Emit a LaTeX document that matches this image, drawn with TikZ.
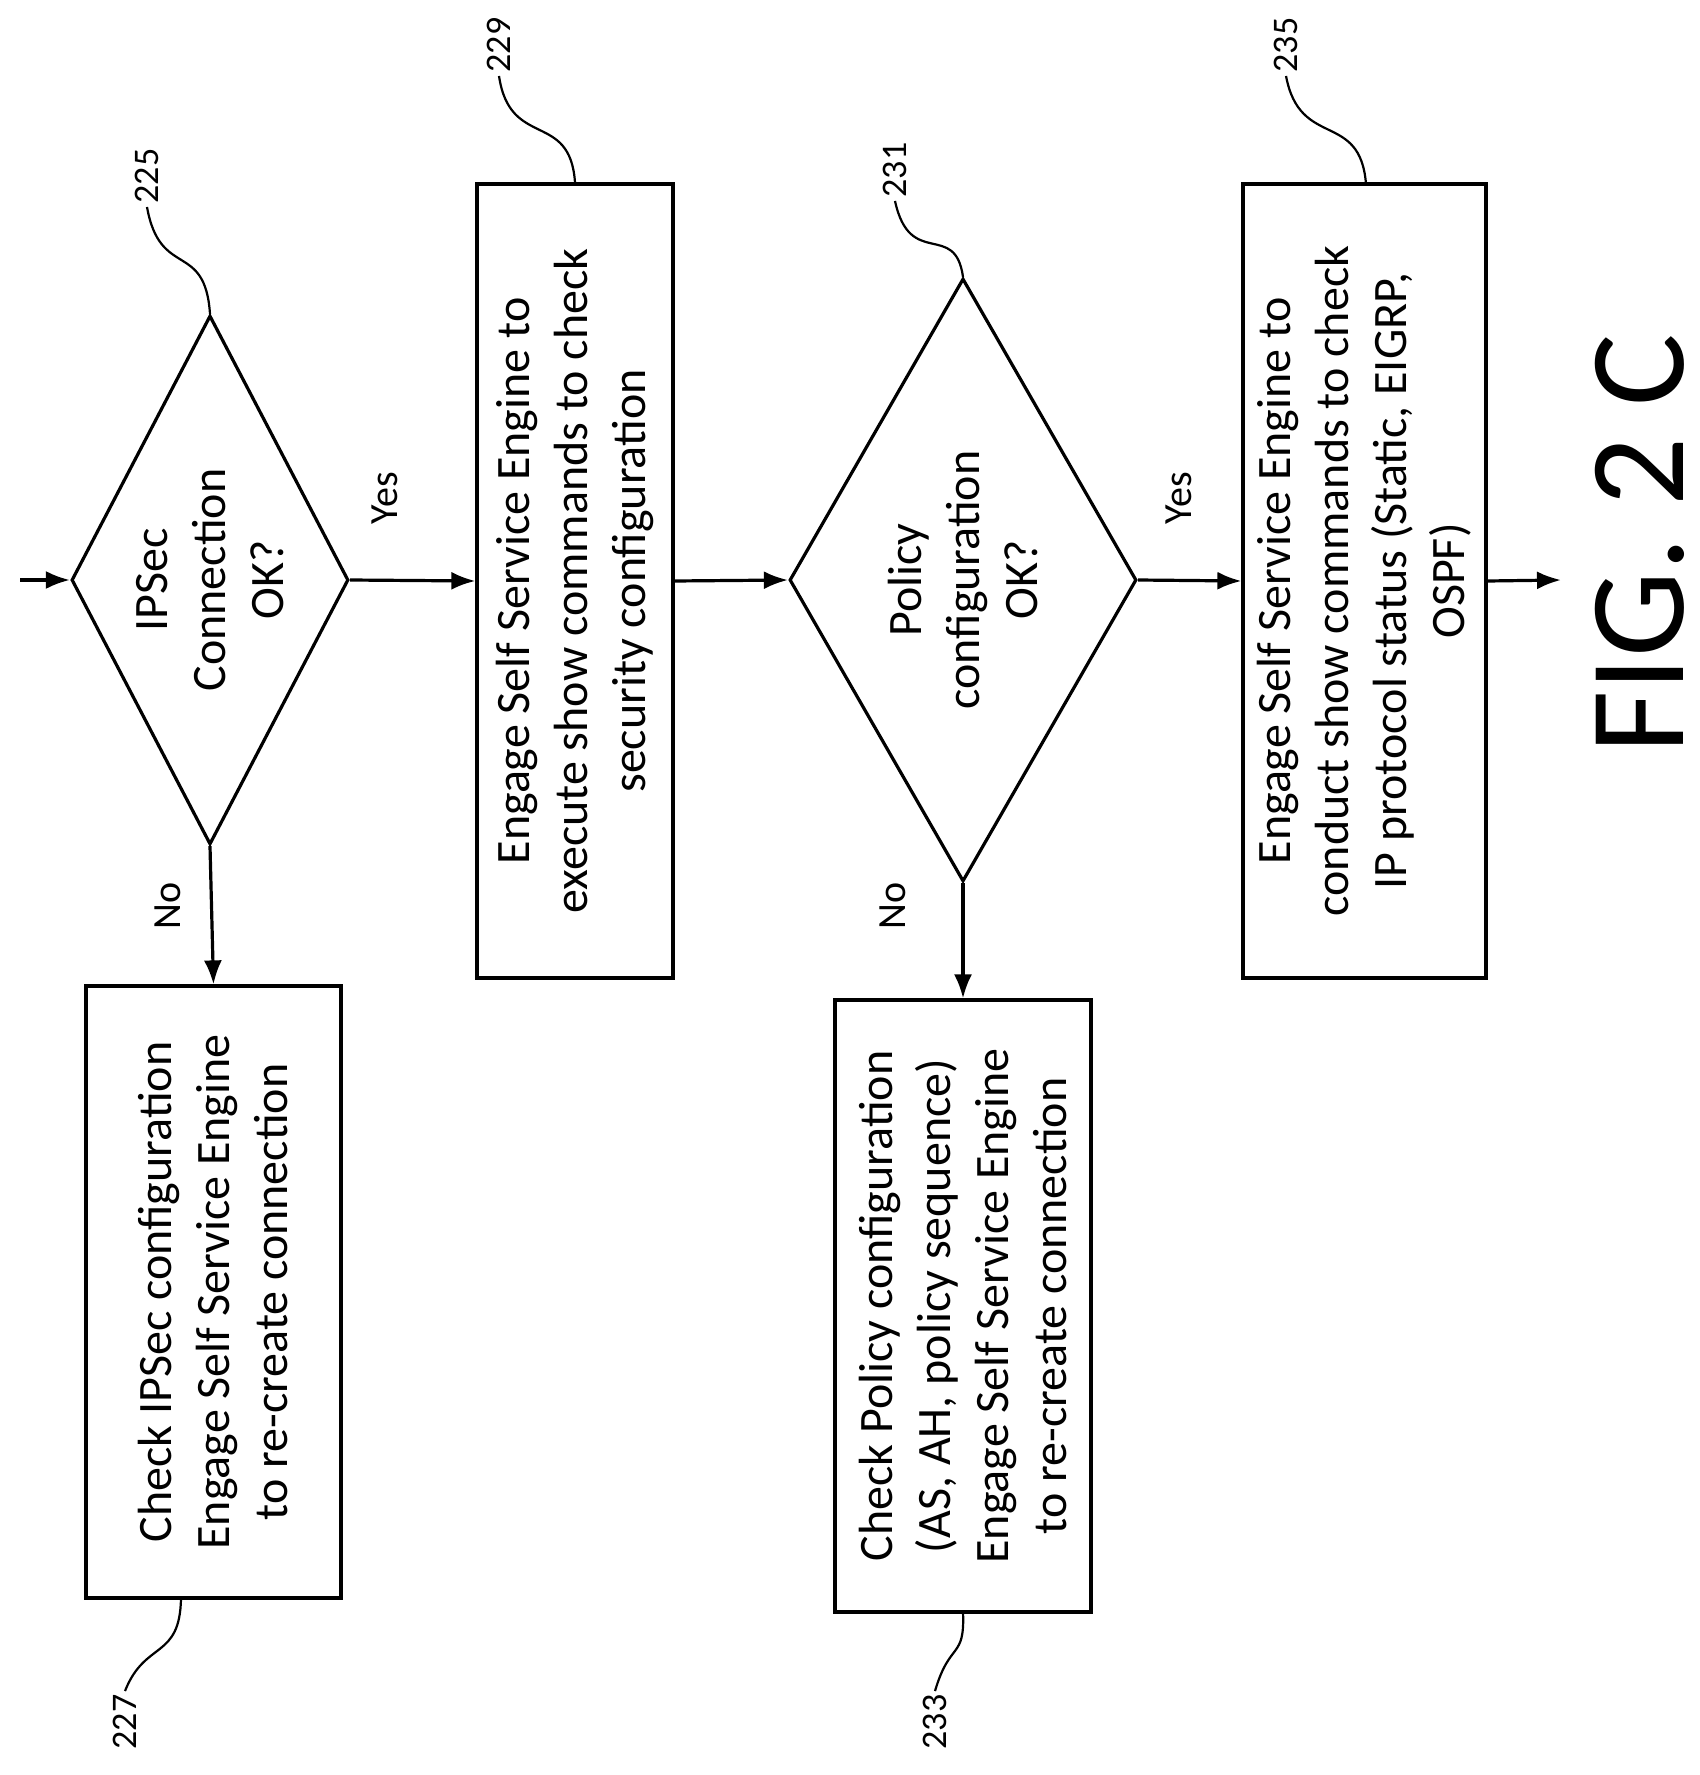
\documentclass[tikz,border=0pt]{standalone}
\usepackage{fontspec}
\setmainfont{Carlito}
\usetikzlibrary{shapes.geometric,arrows.meta}
\begin{document}
\begin{tikzpicture}[x=0.5pt,y=-0.5pt,line width=1.6pt,
  txt/.style={font=\fontsize{24}{29}\selectfont,align=center},
  box/.style={draw,rectangle,rotate=90,inner sep=0pt,txt},
  dia/.style={draw,diamond,rotate=90,inner sep=0pt},
  dtxt/.style={rotate=90,inner sep=0pt,txt},
  arr/.style={-{Latex[length=12pt,width=9pt]}},
  lbl/.style={rotate=90,font=\fontsize{18}{20}\selectfont,inner sep=1pt},
  yn/.style={rotate=90,font=\fontsize{20}{22}\selectfont,inner sep=1pt},
  ref/.style={line width=1.1pt}]
\useasboundingbox (0,0) rectangle (1700,1775);
\node[dia,minimum width=264.5pt,minimum height=138.5pt] (d1) at (210,580) {};
\node[dtxt] (d1t) at (d1.center) {IPSec\\Connection\\OK?};
\node[box,minimum width=306pt,minimum height=127.5pt] (b227) at (213.5,1292) {Check IPSec configuration\\Engage Self Service Engine\\to re-create connection};
\node[box,minimum width=397pt,minimum height=98pt] (b229) at (575,581) {Engage Self Service Engine to\\execute show commands to check\\security configuration};
\node[dia,minimum width=301.5pt,minimum height=173.5pt] (d2) at (963,580) {};
\node[dtxt] (d2t) at (d2.center) {Policy\\configuration\\OK?};
\node[box,minimum width=306pt,minimum height=128pt] (b233) at (963,1306) {Check Policy configuration\\(AS, AH, policy sequence)\\Engage Self Service Engine\\to re-create connection};
\node[box,minimum width=397pt,minimum height=121.5pt] (b235) at (1364.5,581) {Engage Self Service Engine to\\conduct show commands to check\\IP protocol status (Static, EIGRP,\\OSPF)};
\coordinate (in) at (20,580);
\coordinate (out) at (1561,580);
\draw[arr] (in) -- (d1.north);
\draw[arr] (d1.west) -- (b227.east);
\draw[arr] (d1.south) -- (b229.north);
\draw[arr] (b229.south) -- (d2.north);
\draw[arr] (d2.west) -- (b233.east);
\draw[arr] (d2.south) -- (b235.north);
\draw[arr] (b235.south) -- (out);
\node[yn] (no1) at (168,906) {No};
\node[yn] (yes1) at (385,498) {Yes};
\node[yn] (no2) at (893,906) {No};
\node[yn] (yes2) at (1179,498) {Yes};
\node[lbl] (n225) at (147,176) {225};
\node[lbl] (n229) at (499,45) {229};
\node[lbl] (n231) at (895,170) {231};
\node[lbl] (n235) at (1286,45) {235};
\node[lbl] (n227) at (125,1722) {227};
\node[lbl] (n233) at (935,1722) {233};
\draw[ref] (n225.west) .. controls (160,280) and (205,240) .. (d1.east);
\draw[ref] (n229.west) .. controls (510,150) and (570,110) .. (b229.east);
\draw[ref] (n231.west) .. controls (910,270) and (955,220) .. (d2.east);
\draw[ref] (n235.west) .. controls (1300,150) and (1360,110) .. (1366,184);
\draw[ref] (n227.east) .. controls (145,1640) and (180,1660) .. (181,1598);
\draw[ref] (n233.east) .. controls (950,1640) and (965,1660) .. (963,1612);
\node[rotate=90,font=\fontsize{68}{76}\selectfont] (fig) at (1640,544) {FIG. 2 C};
\end{tikzpicture}
\end{document}
